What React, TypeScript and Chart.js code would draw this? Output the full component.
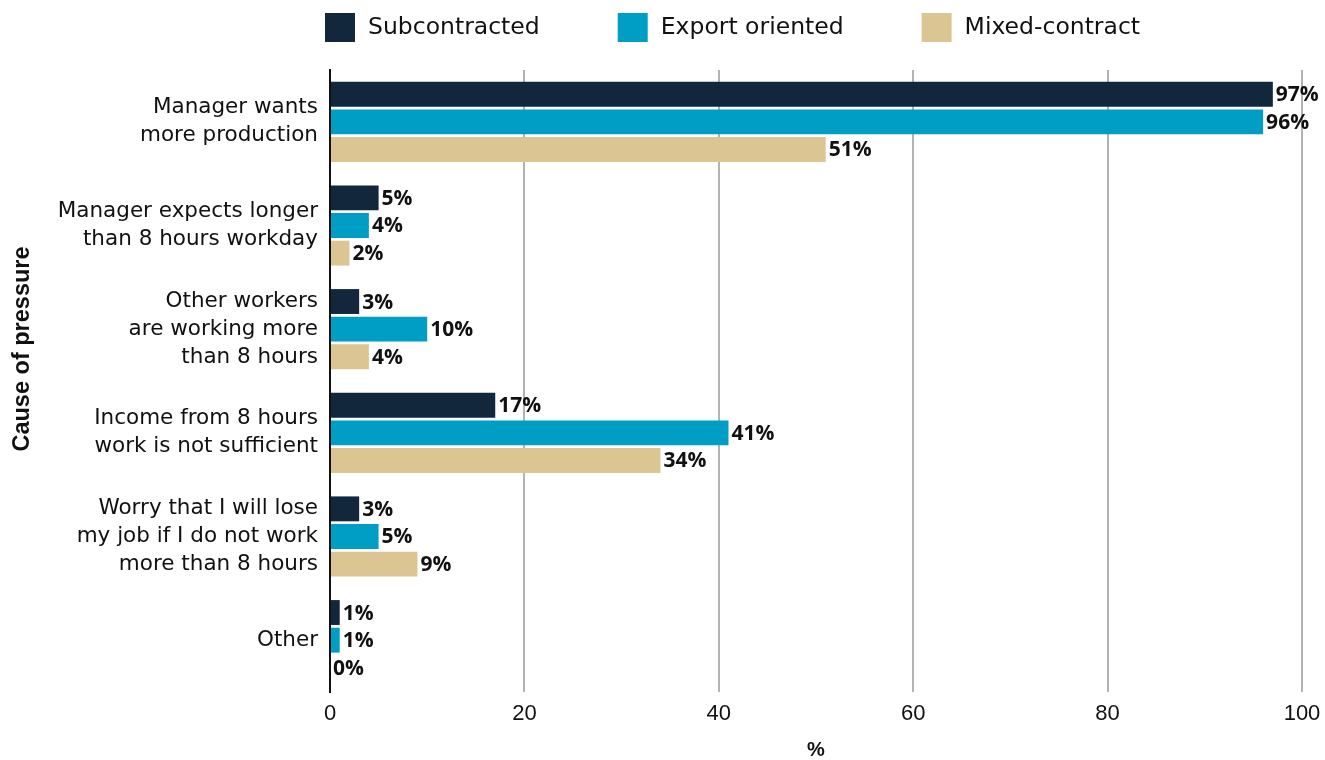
import React, { useEffect, useRef } from "react";
import { Chart, registerables } from "chart.js";

Chart.register(...registerables);

const categories: string[][] = [
  ["Manager wants", "more production"],
  ["Manager expects longer", "than 8 hours workday"],
  ["Other workers", "are working more", "than 8 hours"],
  ["Income from 8 hours", "work is not sufficient"],
  ["Worry that I will lose", "my job if I do not work", "more than 8 hours"],
  ["Other"],
];
const subcontracted = [97, 5, 3, 17, 3, 1];
const exportOriented = [96, 4, 10, 41, 5, 1];
const mixedContract = [51, 2, 4, 34, 9, 0];
const seriesNames = ["Subcontracted", "Export oriented", "Mixed-contract"];
const seriesColors = ["#12263c", "#009ec5", "#dbc593"];
const xTicks = [0, 20, 40, 60, 80, 100];
const yTitle = "Cause of pressure";

const TEXT_FONT = "'DejaVu Sans', sans-serif";
const ARIAL = "'Liberation Sans', Arial, sans-serif";

const valueLabels = {
  id: "valueLabels",
  afterDatasetsDraw(chart: any) {
    const ctx = chart.ctx;
    ctx.save();
    ctx.font = `bold 21px 'Open Sans', sans-serif`;
    ctx.fillStyle = "#111";
    ctx.textAlign = "left";
    ctx.textBaseline = "middle";
    chart.data.datasets.forEach((ds: any, i: number) => {
      const meta = chart.getDatasetMeta(i);
      meta.data.forEach((el: any, j: number) => {
        ctx.fillText(`${ds.data[j]}%`, el.x + 3, el.y + 1);
      });
    });
    ctx.restore();
  },
};

const extras = {
  id: "extras",
  afterDraw(chart: any) {
    const ctx = chart.ctx;
    ctx.save();
    // legend
    ctx.font = `23.5px ${TEXT_FONT}`;
    ctx.textBaseline = "middle";
    ctx.textAlign = "left";
    let x = 325;
    const y = 13;
    chart.data.datasets.forEach((ds: any) => {
      ctx.fillStyle = ds.backgroundColor;
      ctx.fillRect(x, y, 30, 29);
      ctx.fillStyle = "#111";
      ctx.fillText(ds.label, x + 43, y + 15);
      x += 43 + ctx.measureText(ds.label).width + 78;
    });
    // y axis title
    ctx.translate(23, 349);
    ctx.rotate(-Math.PI / 2);
    ctx.textAlign = "center";
    ctx.font = `bold 23.5px ${ARIAL}`;
    ctx.fillStyle = "#111";
    ctx.fillText(yTitle, 0, 0);
    ctx.restore();
  },
};

export default function App() {
  const ref = useRef<HTMLCanvasElement>(null);
  useEffect(() => {
    const chart = new Chart(ref.current!, {
      type: "bar",
      data: {
        labels: categories,
        datasets: [subcontracted, exportOriented, mixedContract].map((d, i) => ({
          label: seriesNames[i],
          data: d,
          backgroundColor: seriesColors[i],
          barPercentage: 0.9,
          categoryPercentage: 0.8,
        })),
      },
      options: {
        indexAxis: "y",
        animation: false,
        responsive: false,
        layout: { padding: { top: 70, right: 23, left: 0, bottom: 0 } },
        plugins: {
          legend: { display: false },
          tooltip: { enabled: false },
        },
        scales: {
          x: {
            min: 0,
            max: 100,
            afterBuildTicks: (s: any) => {
              s.ticks = xTicks.map((v) => ({ value: v }));
            },
            afterFit: (s: any) => {
              s.height = 68;
              s.paddingLeft = 0;
              s.paddingRight = 0;
            },
            grid: { color: "#b3b3b3", lineWidth: 2, drawTicks: false },
            border: { display: false },
            ticks: {
              padding: 9,
              color: "#111",
              font: { family: ARIAL, size: 22 },
            },
            title: {
              display: true,
              text: "%",
              color: "#111",
              font: { family: ARIAL, size: 20, weight: "bold", lineHeight: 1.0 },
              padding: { top: 0, bottom: 0 },
            },
          },
          y: {
            afterFit: (s: any) => {
              s.width = 330;
            },
            grid: { display: false, drawTicks: false },
            border: { display: true, color: "#111", width: 2 },
            ticks: {
              padding: 12,
              color: "#111",
              font: { family: TEXT_FONT, size: 21.5, lineHeight: 1.3 },
            },
          },
        },
      },
      plugins: [valueLabels, extras],
    } as any);
    return () => chart.destroy();
  }, []);
  return (
    <div style={{ position: "fixed", left: 0, top: 0, width: 1325, height: 760, background: "#fff" }}>
      <canvas ref={ref} width={1325} height={760} style={{ display: "block" }} />
    </div>
  );
}
